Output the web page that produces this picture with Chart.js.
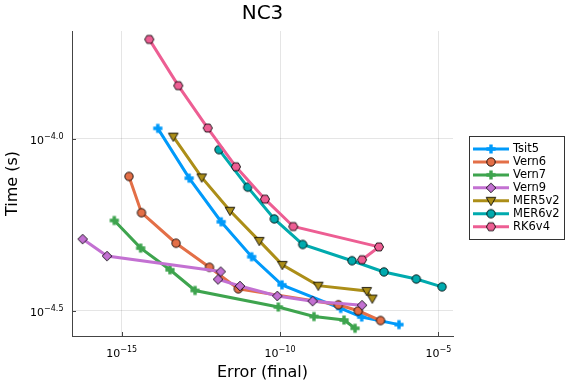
<!DOCTYPE html>
<html><head><meta charset="utf-8">
<script src="https://cdn.jsdelivr.net/npm/chart.js@4.4.1/dist/chart.umd.min.js"></script>
<style>html,body{margin:0;padding:0;background:#fff}#wrap{width:576px;height:384px;position:relative}</style>
</head><body><div id="wrap"><canvas id="c"></canvas></div>
<script>
// ---- data ----
const chartTitle = 'NC3';
const xAxisTitle = 'Error (final)';
const yAxisTitle = 'Time (s)';
const seriesNames = ['Tsit5','Vern6','Vern7','Vern9','MER5v2','MER6v2','RK6v4'];
const seriesColors = ['#009AFA','#E36F47','#3EA44E','#C371D2','#AC8E18','#00AAAE','#ED5E93'];
const seriesMarkers = ['plus','circle','plus','diamond','tridown','circle','hexagon'];

const tsit5Err  = [1.38e-14,1.35e-13,1.38e-12,1.27e-11,1.15e-10,8.22e-9,3.80e-8,5.70e-7];
const tsit5Time = [1.074e-4,7.69e-5,5.74e-5,4.54e-5,3.76e-5,3.21e-5,3.03e-5,2.88e-5];
const vern6Err  = [1.70e-15,4.22e-15,5.19e-14,5.92e-13,4.81e-12,6.92e-9,2.95e-8,1.49e-7];
const vern6Time = [7.78e-5,6.10e-5,4.97e-5,4.23e-5,3.66e-5,3.29e-5,3.16e-5,2.96e-5];
const vern7Err  = [5.83e-16,3.98e-15,3.35e-14,2.07e-13,8.81e-11,1.18e-9,1.05e-8,2.33e-8];
const vern7Time = [5.79e-5,4.81e-5,4.16e-5,3.62e-5,3.24e-5,3.04e-5,2.97e-5,2.81e-5];
const vern9Err  = [5.87e-17,3.44e-16,1.34e-12,1.10e-12,5.43e-12,8.18e-11,1.07e-9,3.87e-8];
const vern9Time = [5.11e-5,4.56e-5,4.11e-5,3.90e-5,3.73e-5,3.49e-5,3.37e-5,3.28e-5];
const mer5Err   = [4.26e-14,3.36e-13,2.63e-12,2.21e-11,1.18e-10,1.61e-9,5.45e-8,8.18e-8];
const mer5Time  = [1.016e-4,7.73e-5,6.18e-5,5.05e-5,4.30e-5,3.74e-5,3.61e-5,3.43e-5];
const mer6Err   = [1.18e-12,9.53e-12,6.58e-11,5.19e-10,1.87e-8,1.91e-7,2.00e-6,1.30e-5];
const mer6Time  = [9.31e-5,7.24e-5,5.85e-5,4.93e-5,4.42e-5,4.10e-5,3.91e-5,3.71e-5];
const rk6Err    = [7.45e-15,6.12e-14,5.20e-13,4.06e-12,3.35e-11,2.62e-10,1.33e-7,3.87e-8];
const rk6Time   = [1.95e-4,1.43e-4,1.076e-4,8.30e-5,6.68e-5,5.56e-5,4.85e-5,4.45e-5];

const seriesErr  = [tsit5Err,vern6Err,vern7Err,vern9Err,mer5Err,mer6Err,rk6Err];
const seriesTime = [tsit5Time,vern6Time,vern7Time,vern9Time,mer5Time,mer6Time,rk6Time];

const xTickValues = [1e-15,1e-10,1e-5];
const xTickExps   = ['\u221215','\u221210','\u22125'];
const yTickValues = [3.1623e-5,1e-4];
const yTickExps   = ['\u22124.5','\u22124.0'];
const xMin = 2.70e-17, xMax = 2.89e-5;
const yMin = 2.668e-5, yMax = 2.063e-4;

// ---- markers ----
const FONT = '"DejaVu Sans", sans-serif';
function makeMarker(shape, color){
  const s = 16, c = document.createElement('canvas');
  c.width = s; c.height = s;
  const g = c.getContext('2d');
  g.translate(s/2, s/2);
  g.fillStyle = color;
  g.strokeStyle = 'rgba(0,0,0,0.85)';
  g.lineWidth = 1;
  g.beginPath();
  if (shape === 'plus') {
    const a = 4.6, t = 1.7;
    g.moveTo(-t,-a); g.lineTo(t,-a); g.lineTo(t,-t); g.lineTo(a,-t); g.lineTo(a,t); g.lineTo(t,t);
    g.lineTo(t,a); g.lineTo(-t,a); g.lineTo(-t,t); g.lineTo(-a,t); g.lineTo(-a,-t); g.lineTo(-t,-t);
    g.closePath(); g.fill();
    return c;
  }
  if (shape === 'circle') { g.arc(0,0,4.2,0,Math.PI*2); }
  else if (shape === 'diamond') { const d=4.8; g.moveTo(0,-d); g.lineTo(d,0); g.lineTo(0,d); g.lineTo(-d,0); g.closePath(); }
  else if (shape === 'tridown') { g.moveTo(-4.8,-3.4); g.lineTo(4.8,-3.4); g.lineTo(0,4.8); g.closePath(); }
  else if (shape === 'hexagon') { const r=4.6; for(let k=0;k<6;k++){const an=Math.PI/3*k; const px=r*Math.cos(an), py=r*Math.sin(an); k?g.lineTo(px,py):g.moveTo(px,py);} g.closePath(); }
  g.fill(); g.stroke();
  return c;
}
const markerCanvases = seriesNames.map((n,i)=>makeMarker(seriesMarkers[i], seriesColors[i]));

const datasets = seriesNames.map((name,i)=>({
  label: name,
  data: seriesErr[i].map((x,j)=>({x:x, y:seriesTime[i][j]})),
  borderColor: seriesColors[i],
  backgroundColor: seriesColors[i],
  borderWidth: 3,
  showLine: true,
  tension: 0,
  pointStyle: markerCanvases[i],
  pointRadius: 4,
  pointHoverRadius: 4,
  order: 20 - i
}));

function drawPow(ctx, x, y, exp, align){
  ctx.font = '11px ' + FONT;
  const wb = ctx.measureText('10').width;
  ctx.font = '8px ' + FONT;
  const we = ctx.measureText(exp).width;
  let x0 = align === 'center' ? x - (wb+we)/2 : x - (wb+we);
  ctx.textAlign = 'left'; ctx.textBaseline = 'alphabetic';
  ctx.font = '11px ' + FONT; ctx.fillText('10', x0, y);
  ctx.font = '8px ' + FONT; ctx.fillText(exp, x0+wb, y-5);
}

const deco = {
  id: 'deco',
  afterDraw(chart){
    const ctx = chart.ctx, xs = chart.scales.x, ys = chart.scales.y, ca = chart.chartArea;
    ctx.save();
    ctx.strokeStyle = '#444'; ctx.lineWidth = 1;
    xTickValues.forEach(v=>{ const px = Math.round(xs.getPixelForValue(v))+0.5; ctx.beginPath(); ctx.moveTo(px, ca.bottom); ctx.lineTo(px, ca.bottom-4); ctx.stroke(); });
    yTickValues.forEach(v=>{ const py = Math.round(ys.getPixelForValue(v))+0.5; ctx.beginPath(); ctx.moveTo(ca.left, py); ctx.lineTo(ca.left+4, py); ctx.stroke(); });
    ctx.fillStyle = '#000';
    xTickValues.forEach((v,i)=>drawPow(ctx, xs.getPixelForValue(v), ca.bottom+21, xTickExps[i], 'center'));
    yTickValues.forEach((v,i)=>drawPow(ctx, ca.left-8.5, ys.getPixelForValue(v)+5, yTickExps[i], 'right'));
    // axis titles
    ctx.font = '16px ' + FONT; ctx.textAlign = 'center'; ctx.textBaseline = 'alphabetic';
    ctx.fillText(xAxisTitle, (ca.left+ca.right)/2, 377);
    ctx.save(); ctx.translate(16.5, (ca.top+ca.bottom)/2); ctx.rotate(-Math.PI/2);
    ctx.fillText(yAxisTitle, 0, 0); ctx.restore();
    // title
    ctx.font = '20px ' + FONT;
    ctx.fillText(chartTitle, (ca.left+ca.right)/2, 18.5);
    // legend
    const bx = 469.5, by = 136.5, bw = 95, bh = 103;
    ctx.fillStyle = '#fff'; ctx.fillRect(bx, by, bw, bh);
    ctx.strokeStyle = '#333'; ctx.lineWidth = 1; ctx.strokeRect(bx, by, bw, bh);
    seriesNames.forEach((n,i)=>{
      const cy = 149 + i*12.95;
      ctx.strokeStyle = seriesColors[i]; ctx.lineWidth = 3;
      ctx.beginPath(); ctx.moveTo(473, cy); ctx.lineTo(509, cy); ctx.stroke();
      const m = markerCanvases[i];
      ctx.drawImage(m, 491 - m.width/2, cy - m.height/2);
      ctx.fillStyle = '#000'; ctx.font = '11.5px ' + FONT; ctx.textAlign = 'left'; ctx.textBaseline = 'middle';
      ctx.fillText(n, 513, cy + 0.5);
    });
    ctx.restore();
  }
};

new Chart(document.getElementById('c'), {
  type: 'scatter',
  data: { datasets },
  options: {
    responsive: true, maintainAspectRatio: false, animation: false,
    layout: { padding: { left: 72, right: 123, top: 31, bottom: 48 } },
    plugins: { legend: { display: false }, tooltip: { enabled: false }, title: { display: false } },
    events: [],
    scales: {
      x: {
        type: 'logarithmic', min: xMin, max: xMax, bounds: 'data',
        afterBuildTicks: s => { s.ticks = xTickValues.map(v=>({value:v})); },
        ticks: { display: false },
        grid: { color: 'rgba(0,0,0,0.1)', lineWidth: 1, drawTicks: false },
        border: { display: true, color: '#444', width: 1 },
        title: { display: false }
      },
      y: {
        type: 'logarithmic', min: yMin, max: yMax, bounds: 'data',
        afterBuildTicks: s => { s.ticks = yTickValues.map(v=>({value:v})); },
        ticks: { display: false },
        grid: { color: 'rgba(0,0,0,0.1)', lineWidth: 1, drawTicks: false },
        border: { display: true, color: '#444', width: 1 },
        title: { display: false }
      }
    }
  },
  plugins: [deco]
});
</script></body></html>
